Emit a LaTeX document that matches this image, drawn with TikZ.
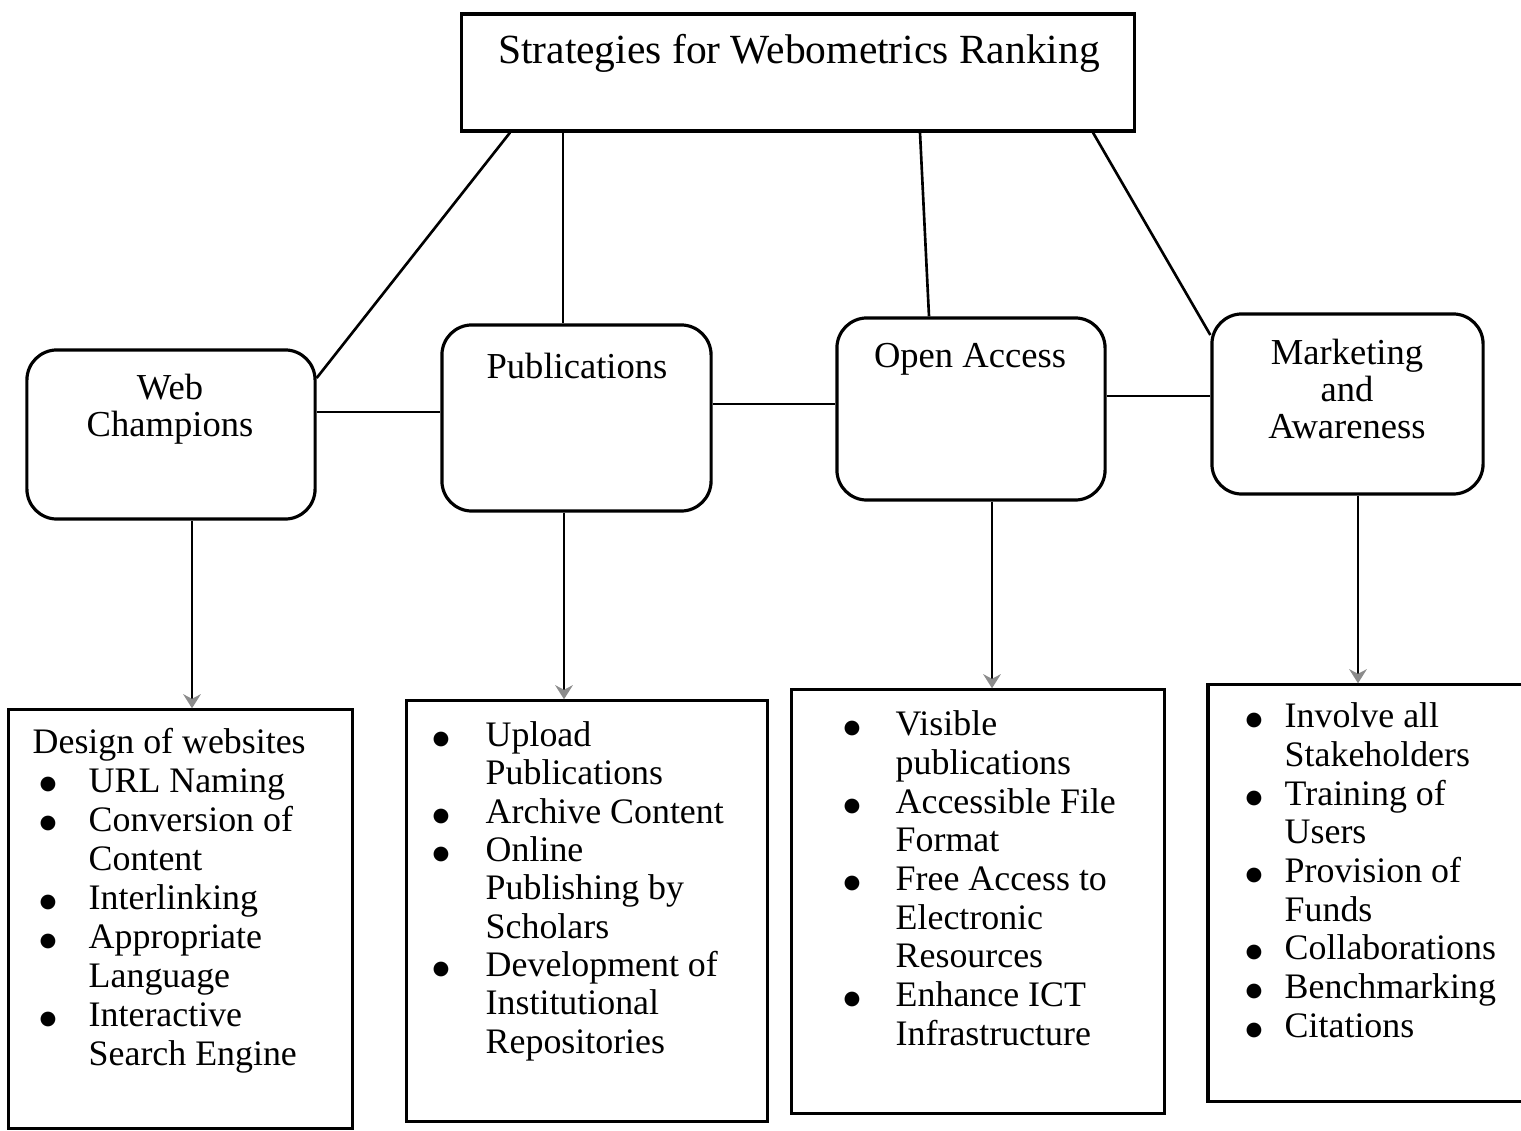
\documentclass[tikz,border=0pt]{standalone}
\usepackage{fontspec}
\setmainfont{Liberation Serif}
\newfontfamily\dejavu{DejaVu Sans}
\usetikzlibrary{arrows.meta}
\tikzset{
  topbox/.style={draw, line width=0.9pt, minimum width=6.72cm, minimum height=1.17cm, inner sep=0pt},
  headbox/.style={draw, line width=0.9pt, rounded corners=0.3cm, inner sep=0pt},
  listbox/.style={draw, line width=0.9pt, inner sep=0pt},
  headtext/.style={anchor=north, inner sep=0pt, align=center, font=\fontsize{10.4}{10.6}\selectfont},
  listtext/.style={anchor=north west, inner sep=0pt, font=\fontsize{10.2}{11}\selectfont},
  link/.style={line width=0.75pt},
  down/.style={line width=0.75pt, -{Stealth[length=4pt, width=5pt, color=black!45]}}
}
\newcommand{\bl}{\raisebox{0.6pt}{{\dejavu\fontsize{5.5}{5.5}\selectfont ●}}}
\begin{document}
\begin{tikzpicture}[x=0.01cm, y=-0.01cm]
\useasboundingbox (0,0) rectangle (1521,1131);
% top
\node[topbox] (top) at (798,72.5) {};
\node[anchor=north, inner sep=0pt, font=\fontsize{11.8}{13}\selectfont] (title) at (799,34) {Strategies for Webometrics Ranking};
% headers
\node[headbox, minimum width=2.88cm, minimum height=1.69cm] (h1) at (171,434.5) {};
\node[headbox, minimum width=2.69cm, minimum height=1.86cm] (h2) at (576.5,418) {};
\node[headbox, minimum width=2.68cm, minimum height=1.82cm] (h3) at (971,409) {};
\node[headbox, minimum width=2.71cm, minimum height=1.80cm] (h4) at (1347.5,404) {};
\node[headtext] (h1t) at (170,373) {Web\\Champions};
\node[headtext] (h2t) at (577,352) {Publications};
\node[headtext] (h3t) at (970,343) {Open Access};
\node[headtext] (h4t) at (1347,338) {Marketing\\and\\Awareness};
% lower boxes
\node[listbox, minimum width=3.43cm, minimum height=4.18cm] (b1) at (180.5,919) {};
\node[listbox, minimum width=3.60cm, minimum height=4.20cm] (b2) at (587,911) {};
\node[listbox, minimum width=3.72cm, minimum height=4.23cm] (b3) at (978,901.5) {};
\node[listbox, minimum width=3.22cm, minimum height=4.16cm] (b4) at (1369,893) {};
\node[listtext, font=\fontsize{10.2}{11.1}\selectfont] (l1) at (32,725) {\begin{tabular}{@{}p{0.56cm}@{}l@{}}
\multicolumn{2}{@{}l@{}}{Design of websites}\\
\hspace{2pt}\bl & URL Naming\\
\hspace{2pt}\bl & Conversion of\\
 & Content\\
\hspace{2pt}\bl & Interlinking\\
\hspace{2pt}\bl & Appropriate\\
 & Language\\
\hspace{2pt}\bl & Interactive\\
 & Search Engine
\end{tabular}};
\node[listtext, font=\fontsize{10.2}{10.9}\selectfont] (l2) at (432,719) {\begin{tabular}{@{}p{0.53cm}@{}l@{}}
\bl & Upload\\
 & Publications\\
\bl & Archive Content\\
\bl & Online\\
 & Publishing by\\
 & Scholars\\
\bl & Development of\\
 & Institutional\\
 & Repositories
\end{tabular}};
\node[listtext] (l3) at (843,708) {\begin{tabular}{@{}p{0.52cm}@{}l@{}}
\bl & Visible\\
 & publications\\
\bl & Accessible File\\
 & Format\\
\bl & Free Access to\\
 & Electronic\\
 & Resources\\
\bl & Enhance ICT\\
 & Infrastructure
\end{tabular}};
\node[listtext] (l4) at (1245,700) {\begin{tabular}{@{}p{0.39cm}@{}l@{}}
\bl & Involve all\\
 & Stakeholders\\
\bl & Training of\\
 & Users\\
\bl & Provision of\\
 & Funds\\
\bl & Collaborations\\
\bl & Benchmarking\\
\bl & Citations
\end{tabular}};
% connectors
\draw[link] (top.south -| 510,0) -- (h1.east |- 0,378);
\draw[link] (top.south -| 563,0) -- (h2.north -| 563,0);
\draw[link] (top.south -| 920,0) -- (h3.north -| 929,0);
\draw[link] (top.south -| 1093,0) -- (h4.west |- 0,335);
\draw[link] (h1.east |- 0,412) -- (h2.west |- 0,412);
\draw[link] (h2.east |- 0,404) -- (h3.west |- 0,404);
\draw[link] (h3.east |- 0,396) -- (h4.west |- 0,396);
\draw[down] (h1.south -| 192,0) -- (b1.north -| 192,0);
\draw[down] (h2.south -| 564,0) -- (b2.north -| 564,0);
\draw[down] (h3.south -| 992,0) -- (b3.north -| 992,0);
\draw[down] (h4.south -| 1358,0) -- (b4.north -| 1358,0);
\end{tikzpicture}
\end{document}
